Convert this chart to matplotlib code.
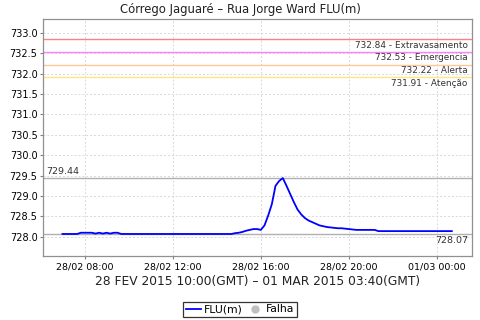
import matplotlib
matplotlib.use("Agg")
import matplotlib.pyplot as plt
import matplotlib.dates as mdates
from datetime import datetime, timedelta

plt.rcParams['font.family'] = ['DejaVu Sans']

title = "Córrego Jaguaré – Rua Jorge Ward FLU(m)"
xlabel = "28 FEV 2015 10:00(GMT) – 01 MAR 2015 03:40(GMT)"

start = datetime(2015, 2, 28, 7, 0)
step_minutes = 10
flu_values = [
    728.07, 728.07, 728.07, 728.07, 728.07, 728.10, 728.10, 728.10, 728.10,  # 07:00-08:20
    728.08, 728.10, 728.08, 728.10, 728.08, 728.10, 728.10,                  # 08:30-09:30
    728.07, 728.07, 728.07, 728.07, 728.07, 728.07, 728.07, 728.07, 728.07, 728.07,  # 09:40-11:10
    728.07, 728.07, 728.07, 728.07, 728.07, 728.07, 728.07, 728.07, 728.07, 728.07,  # 11:20-12:50
    728.07, 728.07, 728.07, 728.07, 728.07, 728.07, 728.07, 728.07, 728.07, 728.07,  # 13:00-14:30
    728.07,                                                                  # 14:40
    728.09, 728.10, 728.12, 728.15, 728.17, 728.19, 728.19,                  # 14:50-15:50
    728.17, 728.28, 728.52, 728.80, 729.25, 729.37, 729.44,                  # 16:00-17:00
    729.25, 729.05, 728.85, 728.67, 728.55, 728.46, 728.40, 728.36, 728.32,  # 17:10-18:30
    728.28, 728.26, 728.24, 728.23, 728.22, 728.21, 728.21, 728.20, 728.19,  # 18:40-20:00
    728.18, 728.17, 728.17, 728.17, 728.17, 728.17, 728.17,                  # 20:10-21:10
    728.14, 728.14, 728.14, 728.14, 728.14, 728.14, 728.14, 728.14, 728.14, 728.14,  # 21:20-22:50
    728.14, 728.14, 728.14, 728.14, 728.14, 728.14, 728.14, 728.14, 728.14, 728.14,  # 23:00-00:30
    728.14,                                                                  # 00:40
]
flu_times = [start + timedelta(minutes=step_minutes * i) for i in range(len(flu_values))]

falha_times = []
falha_values = []

threshold_values = [732.84, 732.53, 732.22, 731.91]
threshold_names = ["Extravasamento", "Emergencia", "Alerta", "Atenção"]
threshold_colors = ["#ff8080", "#ff80ff", "#ffc896", "#ffe680"]

max_value = 729.44
min_value = 728.07

yticks = [728.0, 728.5, 729.0, 729.5, 730.0, 730.5, 731.0, 731.5, 732.0, 732.5, 733.0]
xtick_times = [datetime(2015, 2, 28, 8), datetime(2015, 2, 28, 12), datetime(2015, 2, 28, 16),
               datetime(2015, 2, 28, 20), datetime(2015, 3, 1, 0)]
xtick_labels = ["28/02 08:00", "28/02 12:00", "28/02 16:00", "28/02 20:00", "01/03 00:00"]

fig = plt.figure(figsize=(4.8, 3.2), dpi=100)
ax_left, ax_w = 43 / 480, 429 / 480
ax = fig.add_axes([ax_left, 64 / 320, ax_w, 237 / 320])

for v, c in zip(threshold_values, threshold_colors):
    ax.axhline(v, color=c, lw=1.0, zorder=2)
ax.axhline(max_value, color="#b0b0b0", lw=1.0, zorder=2)
ax.axhline(min_value, color="#b0b0b0", lw=1.0, zorder=2)

line, = ax.plot(flu_times, flu_values, color="#0000ff", lw=1.3, zorder=4, label="FLU(m)")
falha, = ax.plot(falha_times, falha_values, linestyle="none", marker="o", color="#c0c0c0",
                 markersize=5, label="Falha")

ax.set_xlim(datetime(2015, 2, 28, 6, 7), datetime(2015, 3, 1, 1, 35))
ax.set_ylim(727.53, 733.34)
ax.set_yticks(yticks)
ax.set_yticklabels([f"{v:.1f}" for v in yticks], fontsize=7)
ax.set_xticks(xtick_times)
ax.set_xticklabels(xtick_labels, fontsize=6.8)
ax.tick_params(axis="both", length=2, color="#808080", pad=2)
ax.tick_params(axis="x", pad=3)
ax.grid(True, color="#d8d8d8", linestyle=(0, (2, 2)), lw=0.7)
ax.set_axisbelow(True)
for s in ax.spines.values():
    s.set_color("#909090")
    s.set_linewidth(0.9)

trans = ax.get_yaxis_transform()
for v, n in zip(threshold_values, threshold_names):
    ax.text(0.99, v - 0.03, f"{v:.2f} - {n}", transform=trans, ha="right", va="top",
            fontsize=6.4, color="#333333", zorder=5)
ax.text(0.008, max_value + 0.04, f"{max_value:.2f}", transform=trans, ha="left", va="bottom",
        fontsize=6.8, color="#333333")
ax.text(0.99, min_value - 0.06, f"{min_value:.2f}", transform=trans, ha="right", va="top",
        fontsize=6.8, color="#333333")

fig.text(0.5, 1 - 10 / 320, title, ha="center", va="center", fontsize=8.4, color="#222222")
fig.text(ax_left + ax_w / 2, 1 - 282 / 320, xlabel, ha="center", va="center", fontsize=8.8,
         color="#222222")

leg = fig.legend(handles=[line, falha], loc="center", bbox_to_anchor=(0.5, 1 - 309.5 / 320),
                 ncol=2, fontsize=7.8, frameon=True, fancybox=False, edgecolor="black",
                 handlelength=1.4, handletextpad=0.3, columnspacing=0.4, borderpad=0.25,
                 borderaxespad=0)
leg.get_frame().set_linewidth(0.9)

fig.savefig("out.png", dpi=100, facecolor="white")
